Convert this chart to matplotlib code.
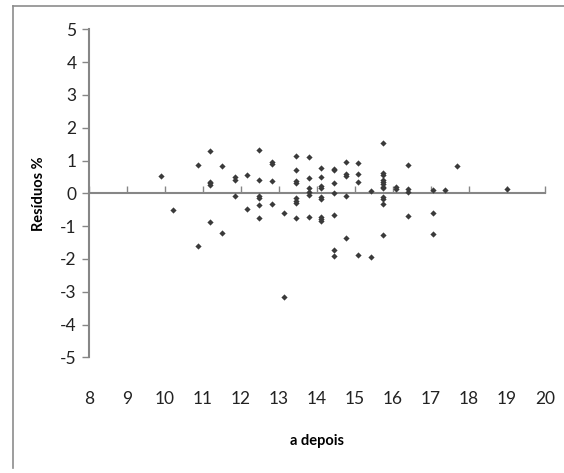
import matplotlib.pyplot as plt
from matplotlib.lines import Line2D

# Residual points
a_depois = [9.89, 10.21, 10.86, 10.86, 11.18, 11.18, 11.18, 11.18, 11.18, 11.51, 11.51,
            11.83, 11.83, 11.83, 12.17, 12.17, 12.48, 12.48, 12.48, 12.48, 12.48, 12.48,
            12.82, 12.82, 12.82, 12.82, 13.14, 13.14,
            13.46, 13.46, 13.46, 13.46, 13.46, 13.46, 13.46, 13.46,
            13.79, 13.79, 13.79, 13.79, 13.79, 13.79,
            14.11, 14.11, 14.11, 14.11, 14.11, 14.11, 14.11, 14.11, 14.11,
            14.44, 14.44, 14.44, 14.44, 14.44, 14.44, 14.44,
            14.76, 14.76, 14.76, 14.76, 14.76,
            15.09, 15.09, 15.09, 15.09, 15.41, 15.41,
            15.74, 15.74, 15.74, 15.74, 15.74, 15.74, 15.74, 15.74, 15.74, 15.74, 15.74, 15.74,
            16.07, 16.07, 16.39, 16.39, 16.39, 16.39,
            17.04, 17.04, 17.04, 17.37, 17.69, 19.0]
residuos = [0.53, -0.51, 0.86, -1.60, 1.29, 0.35, 0.30, 0.24, -0.88, 0.84, -1.21,
            0.49, 0.41, -0.08, 0.55, -0.49, 1.32, 0.41, -0.09, -0.15, -0.36, -0.75,
            0.96, 0.90, 0.38, -0.32, -0.61, -3.17,
            1.14, 0.70, 0.38, 0.32, -0.15, -0.22, -0.29, -0.75,
            1.12, 0.48, 0.15, 0.05, -0.05, -0.71,
            0.78, 0.51, 0.22, 0.17, -0.12, -0.18, -0.71, -0.78, -0.85,
            0.74, 0.70, 0.32, 0.01, -0.66, -1.73, -1.90,
            0.95, 0.58, 0.53, -0.08, -1.36,
            0.93, 0.60, 0.35, -1.89, 0.06, -1.95,
            1.54, 0.61, 0.55, 0.41, 0.35, 0.27, 0.20, 0.15, -0.10, -0.16, -0.32, -1.26,
            0.20, 0.14, 0.85, 0.12, 0.03, -0.68,
            0.09, -0.60, -1.25, 0.11, 0.84, 0.14]

x_ticks = list(range(8, 21))
y_ticks = list(range(-5, 6))

axis_grey = "#868686"
plt.rcParams["font.family"] = ["Lato", "DejaVu Sans"]
plt.rcParams["axes.unicode_minus"] = False

fig = plt.figure(figsize=(5.64, 4.73), dpi=100)
ax = fig.add_axes([0.1578, 0.2446, 0.8085, 0.6934])

ax.scatter(a_depois, residuos, marker="D", s=10, color="#3a3a3a", linewidths=0, zorder=3)

ax.set_xlim(8, 20)
ax.set_ylim(-5, 5)
ax.set_xticks(x_ticks)
ax.set_yticks(y_ticks)

for side in ["top", "right", "bottom"]:
    ax.spines[side].set_visible(False)
ax.spines["left"].set_color(axis_grey)
ax.spines["left"].set_linewidth(1.5)

# x labels sit below the plot area, ticks go on the zero line
ax.tick_params(axis="x", length=0, pad=24, labelsize=12.5, labelcolor="#222222")
ax.tick_params(axis="y", length=5, width=1, color=axis_grey, labelsize=12.5, pad=4,
               labelcolor="#222222")

zero = ax.secondary_xaxis(0.5)
zero.set_xticks(x_ticks)
zero.set_xticklabels([])
zero.tick_params(length=5, width=1, color=axis_grey, direction="out")
for sp in zero.spines.values():
    sp.set_color(axis_grey)
    sp.set_linewidth(1.5)

ax.set_xlabel("a depois", fontsize=10.5, fontweight="bold", labelpad=20)
ax.set_ylabel("Resíduos %", fontsize=10.5, fontweight="bold", labelpad=10)

# chart border (only top and left edges visible in the reference)
fig.add_artist(Line2D([13 / 564, 1], [1 - 6 / 473, 1 - 6 / 473], color="#8c8c8c", lw=1.2))
fig.add_artist(Line2D([13 / 564, 13 / 564], [1 - 6 / 473, 1 - 468 / 473], color="#8c8c8c", lw=1.2))

fig.savefig("out.png", dpi=100)
